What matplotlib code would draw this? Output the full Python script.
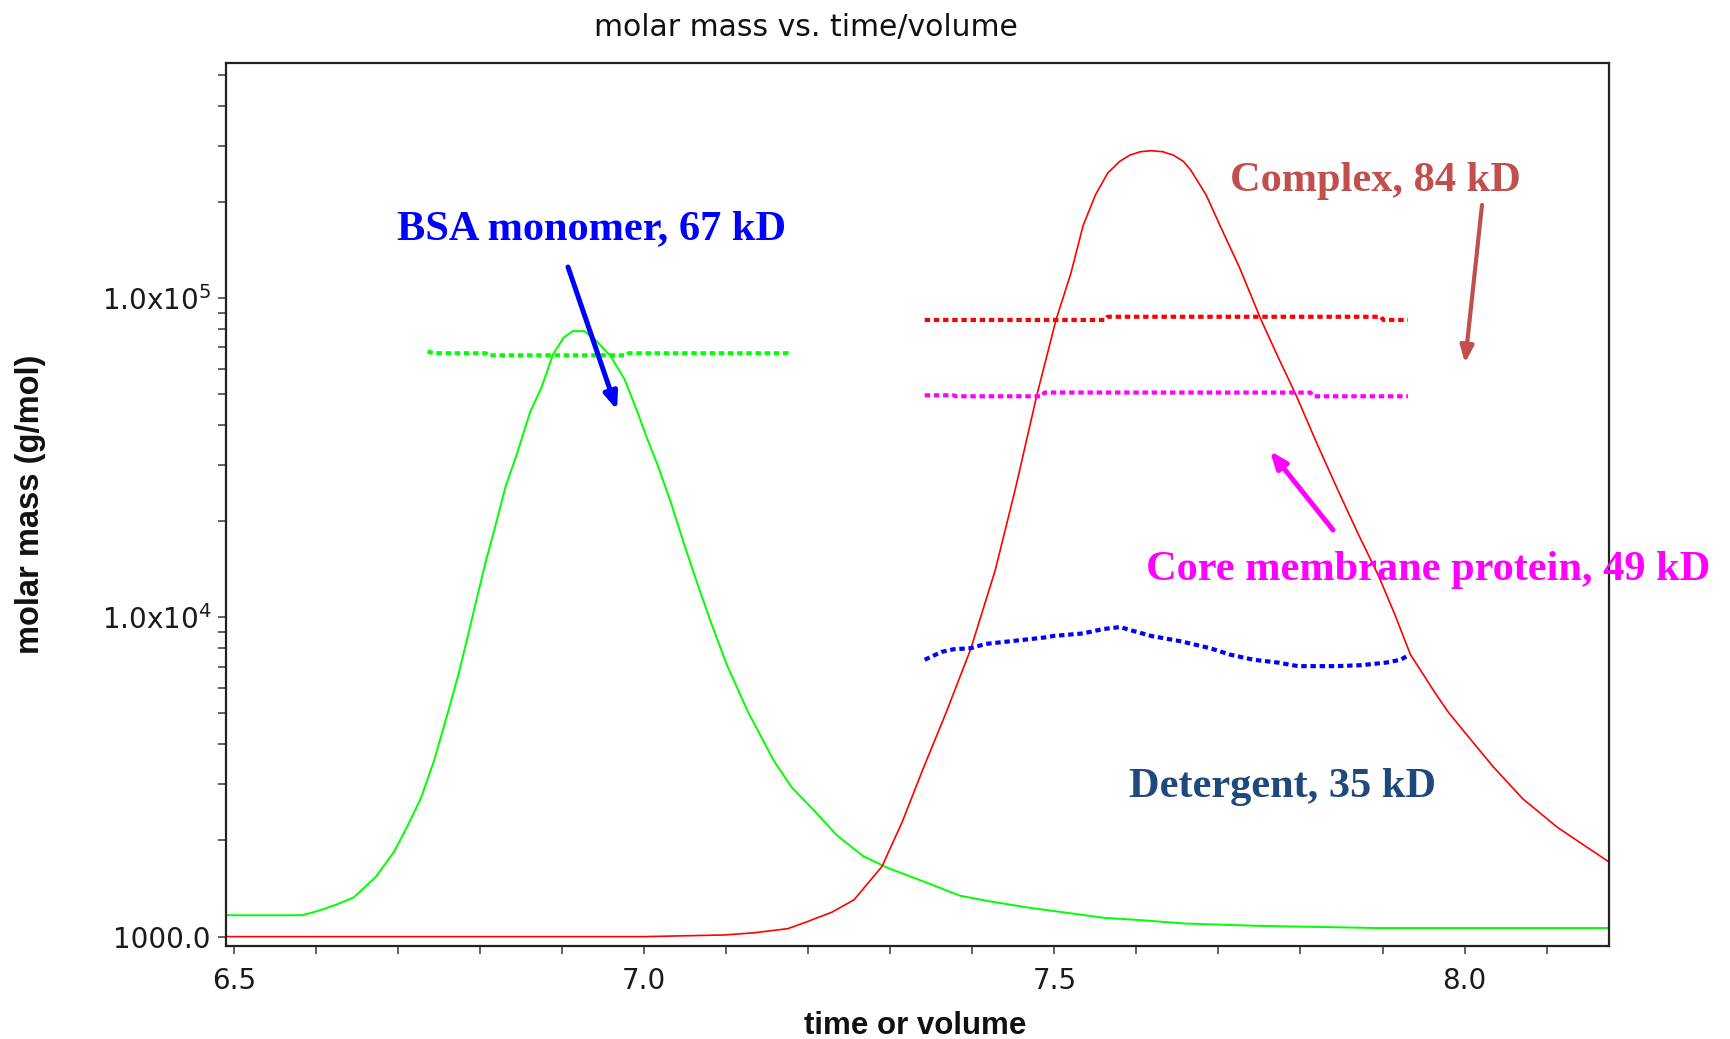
import matplotlib
matplotlib.use("Agg")
import matplotlib.pyplot as plt
from matplotlib import font_manager
from matplotlib.ticker import LogLocator, MultipleLocator, NullFormatter

# --- data ---
# concentration traces (solid lines)
bsa_trace_x = [6.49, 6.583, 6.602, 6.625, 6.646, 6.673, 6.695, 6.711, 6.728, 6.744,
               6.760, 6.774, 6.785, 6.796, 6.807, 6.818, 6.831, 6.845, 6.861, 6.875,
               6.889, 6.902, 6.913, 6.927, 6.940, 6.959, 6.976, 6.992, 7.003, 7.017,
               7.033, 7.049, 7.066, 7.082, 7.101, 7.126, 7.158, 7.180, 7.207, 7.235,
               7.267, 7.296, 7.343, 7.385, 7.420, 7.473, 7.517, 7.561, 7.606, 7.659,
               7.747, 7.893, 8.178]
bsa_trace_y = [1167, 1167, 1202, 1260, 1326, 1538, 1841, 2203, 2716, 3556,
               4943, 6668, 8700, 11430, 14960, 19010, 25600, 32500, 43860, 52480,
               66680, 75160, 78700, 78700, 74130, 65770, 55720, 43860, 36640, 29720,
               22700, 16860, 12500, 9550, 7080, 5090, 3556, 2930, 2485, 2075,
               1787, 1645, 1480, 1343, 1291, 1228, 1186, 1145, 1126, 1099,
               1081, 1064, 1064]

complex_trace_x = [6.49, 7.000, 7.098, 7.134, 7.175, 7.196, 7.229, 7.256, 7.290, 7.315,
                   7.339, 7.368, 7.398, 7.428, 7.452, 7.479, 7.502, 7.520, 7.535, 7.550,
                   7.565, 7.580, 7.592, 7.605, 7.618, 7.632, 7.645, 7.657, 7.666, 7.685,
                   7.702, 7.726, 7.752, 7.773, 7.794, 7.820, 7.845, 7.870, 7.895, 7.915,
                   7.934, 7.950, 7.964, 7.980, 7.999, 8.035, 8.071, 8.113, 8.142, 8.178]
complex_trace_y = [1000, 1000, 1012, 1028, 1059, 1107, 1193, 1305, 1660, 2300,
                   3304, 5025, 7943, 14060, 24950, 50000, 85300, 119100, 168300, 210000,
                   246000, 268000, 280000, 287000, 289000, 287000, 280000, 268000, 252000, 210000,
                   168300, 123900, 85300, 65000, 50000, 35000, 25200, 18300, 13500, 10200,
                   7640, 6600, 5800, 5050, 4400, 3400, 2700, 2200, 1960, 1700]

# molar mass points (dotted lines)
bsa_mm_x = [6.736, 6.744, 6.807, 6.809, 6.978, 6.981, 7.175, 7.179]
bsa_mm_y = [68000, 67100, 67100, 66100, 66100, 67100, 67100, 66500]

complex_mm_x = [7.342, 7.562, 7.565, 7.898, 7.901, 7.931]
complex_mm_y = [85300, 85300, 87300, 87300, 85300, 85300]

core_mm_x = [7.342, 7.377, 7.380, 7.485, 7.488, 7.812, 7.815, 7.931]
core_mm_y = [49550, 49550, 49200, 49200, 50550, 50550, 49200, 49200]

det_mm_x = [7.342, 7.3625, 7.377, 7.398, 7.416, 7.446, 7.4875, 7.499, 7.535, 7.559,
            7.580, 7.595, 7.618, 7.654, 7.690, 7.714, 7.743, 7.773, 7.797, 7.845,
            7.874, 7.904, 7.922, 7.931]
det_mm_y = [7360, 7790, 7940, 8000, 8250, 8410, 8640, 8740, 8900, 9180,
            9320, 9080, 8740, 8410, 8000, 7640, 7360, 7210, 7030, 7030,
            7080, 7210, 7360, 7590]

x_ticks = [6.5, 7.0, 7.5, 8.0]
x_tick_labels = ["6.5", "7.0", "7.5", "8.0"]
y_ticks = [1e3, 1e4, 1e5]
y_tick_labels = ["1000.0", "1.0x10$^{4}$", "1.0x10$^{5}$"]

# --- fonts ---
installed = {f.name for f in font_manager.fontManager.ttflist}
tick_font = "Liberation Sans Narrow" if "Liberation Sans Narrow" in installed else "DejaVu Sans"
tick_size = 25 if tick_font == "Liberation Sans Narrow" else 20
plt.rcParams["mathtext.fontset"] = "custom"
plt.rcParams["mathtext.rm"] = tick_font
plt.rcParams["mathtext.default"] = "rm"

W, H = 1730, 1039
fig = plt.figure(figsize=(W / 100, H / 100), dpi=100)
ax = fig.add_axes([226 / W, 1 - 945.5 / H, (1609 - 226) / W, (945.5 - 63) / H])


def px(x, y):
    # pixel position (from top-left) -> figure fraction
    return x / W, 1 - y / H


# solid traces
ax.plot(bsa_trace_x, bsa_trace_y, color="#00ff00", lw=1.4)
ax.plot(complex_trace_x, complex_trace_y, color="#ff0000", lw=1.2)

# dotted molar mass
dots = (0, (1.3, 0.9))
ax.plot(bsa_mm_x, bsa_mm_y, color="#00ff00", lw=3.0, linestyle=dots)
ax.plot(complex_mm_x, complex_mm_y, color="#ff0000", lw=3.0, linestyle=dots)
ax.plot(core_mm_x, core_mm_y, color="#ff00ff", lw=3.0, linestyle=dots)
ax.plot(det_mm_x, det_mm_y, color="#0000ff", lw=3.0, linestyle=dots)

ax.set_yscale("log")
ax.set_xlim(6.4904, 8.176)
ax.set_ylim(938, 5.44e5)

ax.set_xticks(x_ticks, labels=x_tick_labels, fontfamily=tick_font, fontsize=tick_size, color="#1a1a1a")
ax.xaxis.set_minor_locator(MultipleLocator(0.1))
ax.set_yticks(y_ticks, labels=y_tick_labels, fontfamily=tick_font, fontsize=tick_size, color="#1a1a1a")
ax.yaxis.set_minor_locator(LogLocator(base=10, subs=range(2, 10)))
ax.yaxis.set_minor_formatter(NullFormatter())

ax.tick_params(which="both", direction="out", length=5.8, width=1.3, color="#555555")
ax.tick_params(axis="x", pad=10)
ax.tick_params(axis="y", pad=5)
for s in ax.spines.values():
    s.set_linewidth(1.6)
    s.set_color("#222222")

# titles and axis labels
fig.text(*px(806, 36), "molar mass vs. time/volume", ha="center", va="baseline",
         fontsize=21.5, family="DejaVu Sans", color="#111111")
fig.text(*px(915, 1034), "time or volume", ha="center", va="baseline",
         fontsize=22.5, fontweight="bold", family="Liberation Sans", color="#111111")
fig.text(*px(39, 504), "molar mass (g/mol)", rotation=90, rotation_mode="anchor",
         ha="center", va="baseline", fontsize=23.5, fontweight="bold",
         family="Liberation Sans", color="#111111")

# overlay labels
notes = [
    ("BSA monomer, 67 kD", (397, 239), "#0000ff"),
    ("Complex, 84 kD", (1230, 191), "#c0504d"),
    ("Core membrane protein, 49 kD", (1146, 580), "#ff00ff"),
    ("Detergent, 35 kD", (1129, 797), "#1f497d"),
]
for txt, pos, col in notes:
    fig.text(*px(*pos), txt, ha="left", va="baseline", fontsize=30.5, fontweight="bold",
             family="Liberation Serif", color=col)

arrows = [
    ((568, 267), (617, 410), "#0000ff", 3.6),
    ((1482, 205), (1465, 363), "#c0504d", 3.0),
    ((1333, 530), (1270, 451), "#ff00ff", 3.6),
]
for tail, head, col, lw in arrows:
    ax.annotate("", xy=px(*head), xytext=px(*tail), xycoords="figure fraction",
                textcoords="figure fraction",
                arrowprops=dict(arrowstyle="-|>,head_length=1.0,head_width=0.4",
                                color=col, lw=lw, shrinkA=0, shrinkB=0, mutation_scale=10))

fig.savefig("out.png", dpi=100)
